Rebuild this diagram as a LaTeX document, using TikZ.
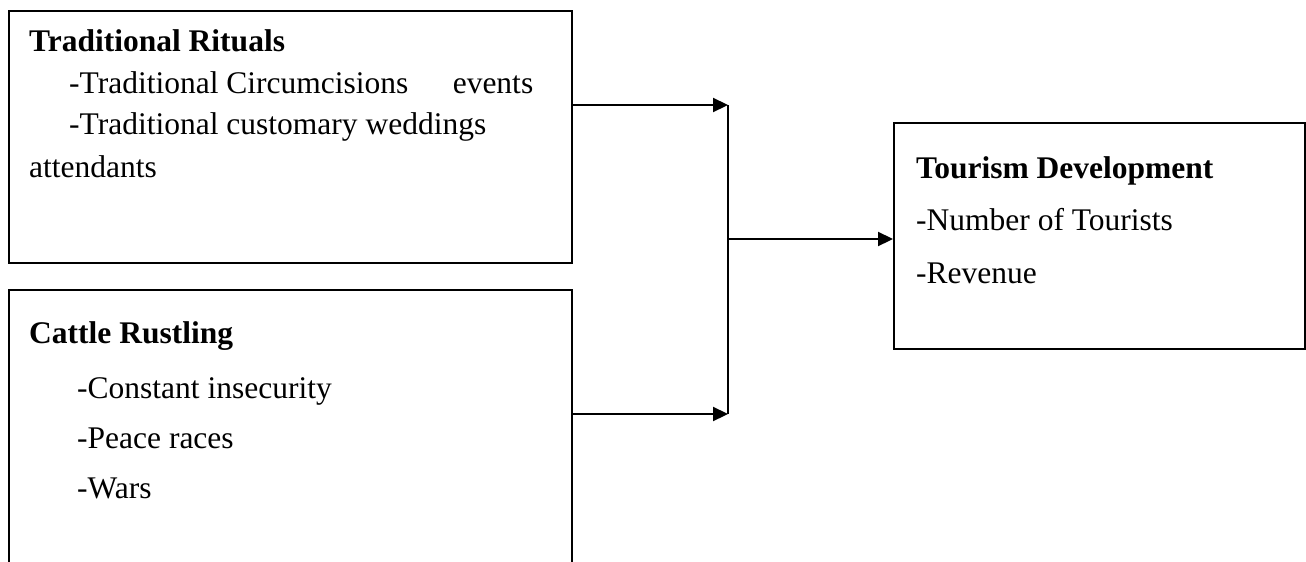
\documentclass[tikz,border=0pt]{standalone}
\usepackage{fontspec}
\setmainfont{Liberation Serif}
\usetikzlibrary{arrows.meta}

\tikzset{
  box/.style={draw, line width=2.2pt, anchor=north west, inner sep=0pt},
  txt/.style={anchor=base west, inner sep=0pt, font=\fontsize{31.5}{36}\selectfont},
  head/.style={txt, font=\fontsize{31.5}{36}\selectfont\bfseries},
  link/.style={line width=2.2pt, -{Triangle[length=15pt,width=14pt]}}
}

\begin{document}
\begin{tikzpicture}[x=1pt,y=-1pt]
\useasboundingbox (0,0) rectangle (1306,562);
\clip (0,0) rectangle (1306,562);
% the three boxes
\node[box, minimum width=563pt, minimum height=252pt] (rituals) at (8,10) {};
\node[box, minimum width=563pt, minimum height=300pt] (cattle) at (8,289) {};
\node[box, minimum width=411pt, minimum height=226pt] (tourism) at (893,122) {};

% texts
\node[head] (ritualsHead) at (29,51) {Traditional Rituals};
\node[txt] (ritualsA) at (69,93) {\hbox to 464pt{-Traditional Circumcisions\hfill events}};
\node[txt] (ritualsB) at (69,134) {-Traditional customary weddings};
\node[txt] (ritualsC) at (29,177) {attendants};

\node[head] (cattleHead) at (29,343) {Cattle Rustling};
\node[txt] (cattleA) at (77,398) {-Constant insecurity};
\node[txt] (cattleB) at (77,448) {-Peace races};
\node[txt] (cattleC) at (77,498) {-Wars};

\node[head] (tourismHead) at (916,178) {Tourism Development};
\node[txt] (tourismA) at (916,230) {-Number of Tourists};
\node[txt] (tourismB) at (916,283) {-Revenue};

% connectors
\coordinate (joinTop) at (728,105);
\coordinate (joinBot) at (728,414);
\coordinate (joinMid) at (728,239);
\draw[link] (rituals.east |- joinTop) -- (joinTop);
\draw[link] (cattle.east |- joinBot) -- (joinBot);
\draw[line width=2.2pt] (joinTop) -- (joinBot);
\draw[link] (joinMid) -- (tourism.west |- joinMid);
\end{tikzpicture}
\end{document}
